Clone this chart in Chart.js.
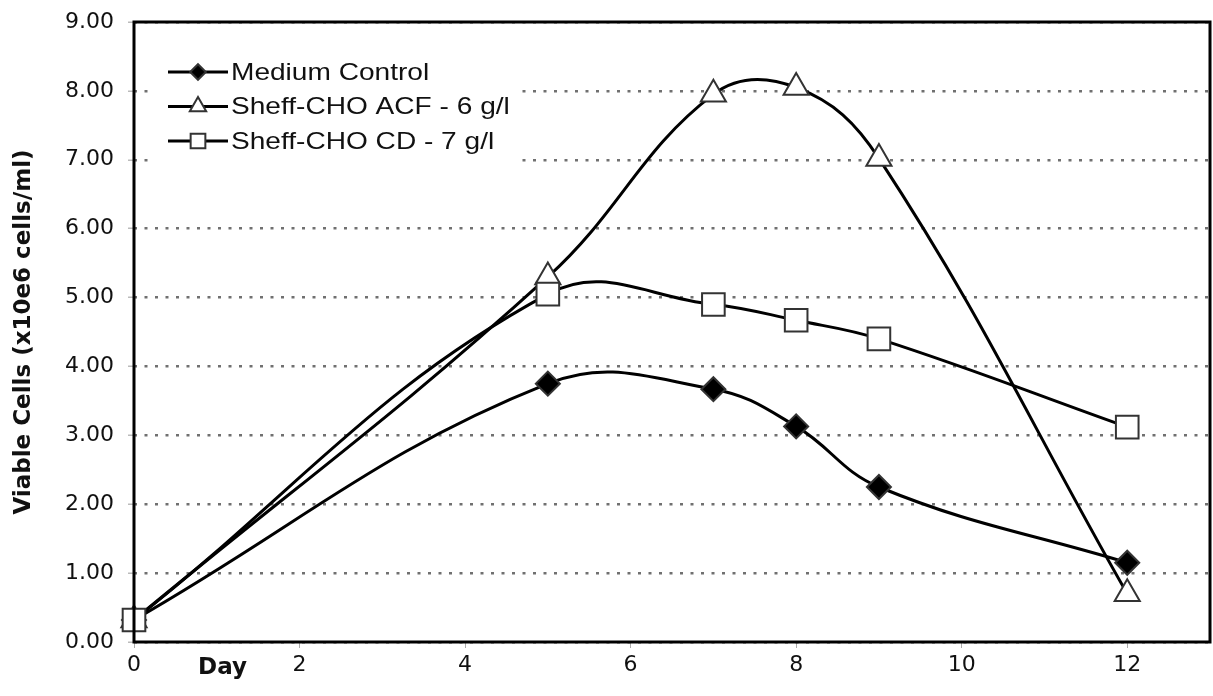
<!DOCTYPE html>
<html>
<head>
    <title>Viable Cells</title>
    <script src="https://cdn.jsdelivr.net/npm/chart.js"></script>
    <style>
        html, body { margin: 0; padding: 0; background: #fff; overflow: hidden; }
        #wrap { width: 1213px; height: 696px; }
    </style>
</head>
<body>
<div id="wrap"><canvas id="cellChart"></canvas></div>
<script>
    // values
    const days = [0, 5, 7, 8, 9, 12];
    const mediumControl = [0.32, 3.75, 3.67, 3.13, 2.25, 1.15];
    const acf6 = [0.32, 5.30, 7.95, 8.05, 7.02, 0.70];
    const cd7 = [0.32, 5.05, 4.90, 4.67, 4.40, 3.12];
    const seriesNames = ['Medium Control', 'Sheff-CHO ACF - 6 g/l', 'Sheff-CHO CD - 7 g/l'];
    const xTitle = 'Day';
    const yTitle = 'Viable Cells (x10e6 cells/ml)';

    const pts = (ys) => days.map((d, i) => ({ x: d, y: ys[i] }));
    const font = 'DejaVu Sans, Arial, sans-serif';

    const markers = [
        { style: 'rectRot', radius: 12, fill: '#000' },
        { style: 'triangle', radius: 14.5, fill: '#fff' },
        { style: 'rect', radius: 16, fill: '#fff' }
    ];

    function makeSet(label, ys, m, order) {
        return {
            label: label,
            data: pts(ys),
            order: order,
            clip: false,
            borderColor: '#000',
            borderWidth: 3,
            tension: 0.4,
            pointStyle: m.style,
            pointRadius: m.radius,
            pointBackgroundColor: m.fill,
            pointBorderColor: '#333',
            pointBorderWidth: 2
        };
    }

    // white box for the legend, a frame and the "Day" text
    const extras = {
        id: 'extras',
        beforeDatasetsDraw(chart) {
            const c = chart.ctx;
            c.save();
            c.fillStyle = '#fff';
            c.fillRect(150, 45, 370, 130);
            c.restore();
        },
        afterDraw(chart) {
            const c = chart.ctx;
            const a = chart.chartArea;
            const xs = chart.scales.x;
            c.save();
            c.strokeStyle = '#000';
            c.lineWidth = 3;
            c.strokeRect(a.left, a.top, a.right - a.left, a.bottom - a.top);

            c.fillStyle = '#111';
            c.font = 'bold 23px ' + font;
            c.textAlign = 'center';
            c.textBaseline = 'middle';
            c.fillText(xTitle, xs.getPixelForValue(1.07), 668);

            // legend
            c.font = '24px Liberation Sans, Arial, sans-serif';
            c.textAlign = 'left';
            chart.data.datasets.forEach((ds, i) => {
                const y = 72 + i * 34.5;
                c.strokeStyle = '#000';
                c.lineWidth = 3;
                c.beginPath();
                c.moveTo(168, y);
                c.lineTo(228, y);
                c.stroke();
                const m = markers[i];
                c.fillStyle = m.fill;
                c.strokeStyle = '#333';
                c.lineWidth = 2;
                Chart.helpers.drawPoint(c, { pointStyle: m.style, radius: m.radius * 0.65, rotation: 0, borderWidth: 2 }, 198, y);
                c.fillStyle = '#111';
                c.save();
                c.translate(231, y + 1);
                c.scale(1.17, 1);
                c.fillText(ds.label, 0, 0);
                c.restore();
            });
            c.restore();
        }
    };

    new Chart(document.getElementById('cellChart'), {
        type: 'line',
        data: {
            datasets: [
                makeSet(seriesNames[0], mediumControl, markers[0], 1),
                makeSet(seriesNames[1], acf6, markers[1], 2),
                makeSet(seriesNames[2], cd7, markers[2], 0)
            ]
        },
        options: {
            responsive: true,
            maintainAspectRatio: false,
            animation: false,
            layout: { autoPadding: false, padding: { top: 22, right: 3, left: 0, bottom: 0 } },
            plugins: {
                legend: { display: false },
                tooltip: { enabled: false }
            },
            scales: {
                x: {
                    type: 'linear',
                    min: 0,
                    max: 13,
                    afterFit(s) { s.height = 54; s.paddingRight = 0; s.paddingLeft = 0; },
                    ticks: {
                        stepSize: 2,
                        includeBounds: false,
                        color: '#111',
                        font: { family: font, size: 22 },
                        padding: 4
                    },
                    grid: {
                        drawOnChartArea: false,
                        color: '#aaa',
                        tickLength: 6
                    },
                    border: { display: false }
                },
                y: {
                    min: 0,
                    max: 9,
                    afterFit(s) { s.width = 134; s.paddingTop = 0; s.paddingBottom = 0; },
                    ticks: {
                        stepSize: 1,
                        color: '#111',
                        font: { family: font, size: 22 },
                        padding: 14,
                        callback: (v) => v.toFixed(2)
                    },
                    grid: {
                        color: '#707070',
                        lineWidth: 2.5,
                        tickLength: 6,
                        tickColor: '#bbb',
                        tickWidth: 1.5
                    },
                    border: { display: false, dash: [3, 7.5] },
                    title: {
                        display: true,
                        text: yTitle,
                        color: '#111',
                        font: { family: font, size: 23, weight: 'bold' },
                        padding: { top: 10, bottom: 0 }
                    }
                }
            }
        },
        plugins: [extras]
    });
</script>
</body>
</html>
